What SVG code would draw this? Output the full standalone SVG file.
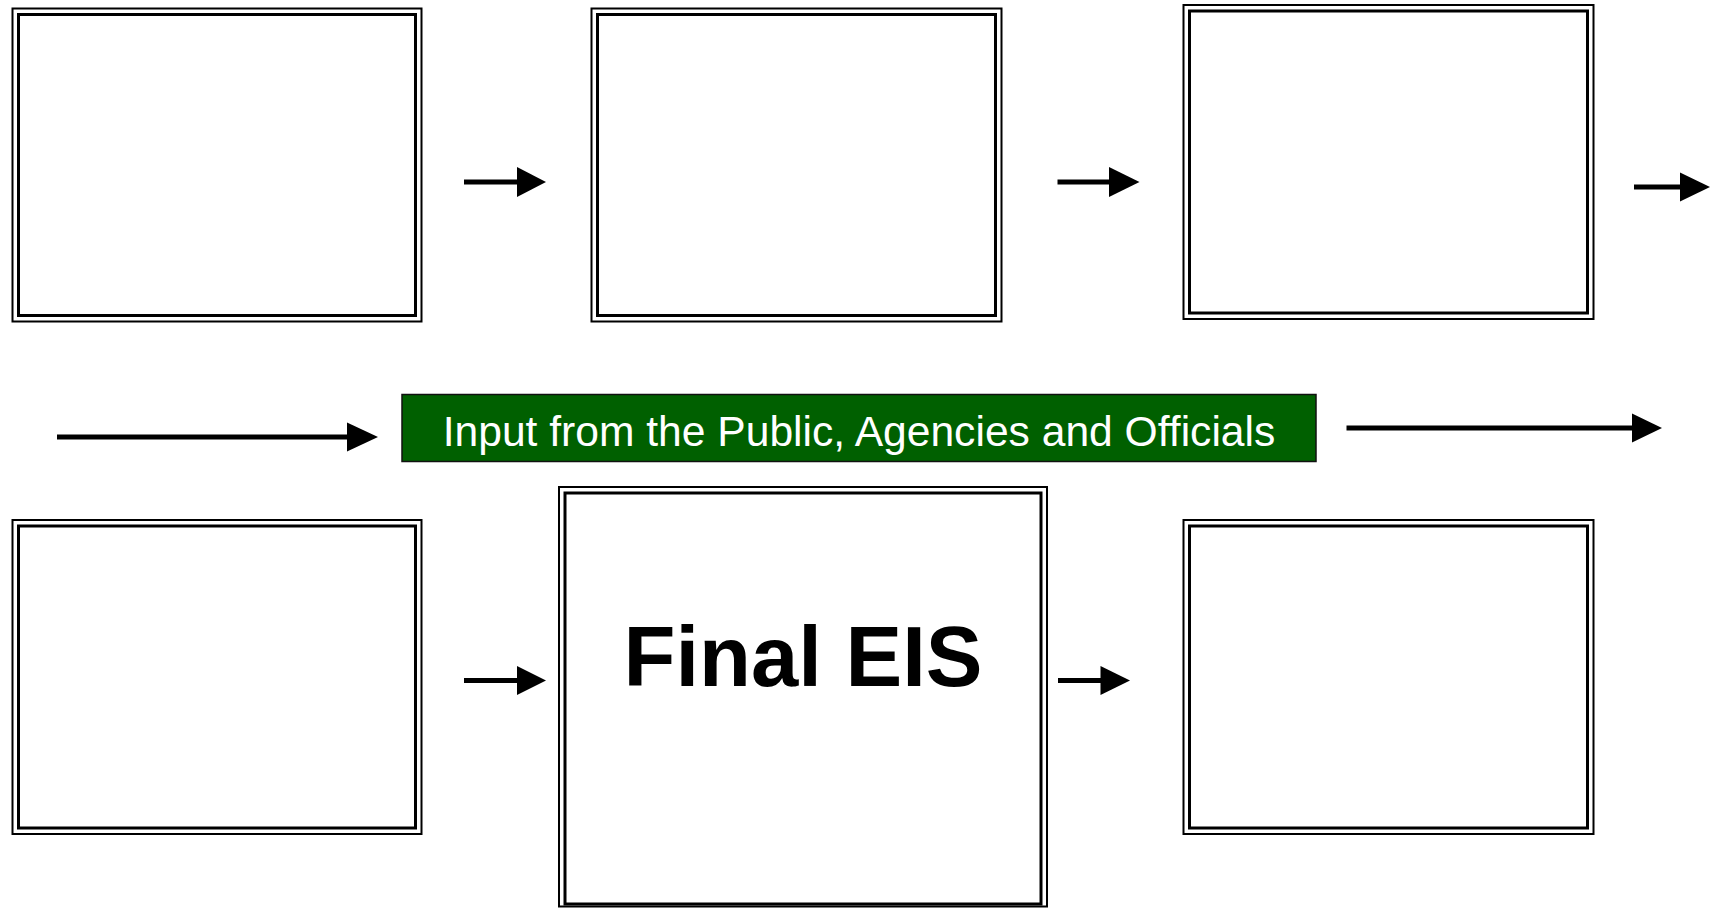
<svg xmlns="http://www.w3.org/2000/svg" width="1713" height="908" viewBox="0 0 1713 908">
<defs>
<style>
.outer{fill:#fff;stroke:#000;stroke-width:2}
.inner{fill:none;stroke:#000;stroke-width:3}
.ln{stroke:#000;stroke-width:5;fill:none}
.hd{fill:#000}
.lbl{font-family:"Liberation Sans",Arial,sans-serif;fill:#fff;font-size:42.6px;text-anchor:middle}
.big{font-family:"Liberation Sans",Arial,sans-serif;font-weight:bold;fill:#000;font-size:85px;text-anchor:middle}
</style>
</defs>
<rect width="1713" height="908" fill="#fff"/>
<g id="node-1"><rect class="outer" x="12.5" y="8.5" width="409" height="313"/><rect class="inner" x="18.5" y="14.5" width="397" height="301"/></g>
<g id="node-2"><rect class="outer" x="591.5" y="8.5" width="410" height="313"/><rect class="inner" x="597.5" y="14.5" width="398" height="301"/></g>
<g id="node-3"><rect class="outer" x="1183.5" y="5" width="410" height="314"/><rect class="inner" x="1189.5" y="11" width="398" height="302"/></g>
<g id="node-input"><rect x="402" y="394.5" width="914" height="67" fill="#006000" stroke="#111" stroke-width="1.5"/><text class="lbl" x="859" y="446">Input from the Public, Agencies and Officials</text></g>
<g id="node-4"><rect class="outer" x="12.5" y="520" width="409" height="314"/><rect class="inner" x="18.5" y="526" width="397" height="302"/></g>
<g id="node-5"><rect class="outer" x="559" y="487" width="488" height="419.5"/><rect class="inner" x="565" y="493" width="476" height="411"/><text class="big" x="803" y="686">Final EIS</text></g>
<g id="node-6"><rect class="outer" x="1183.5" y="520" width="410" height="314"/><rect class="inner" x="1189.5" y="526" width="398" height="302"/></g>
<g id="connectors">
<line class="ln" x1="464" y1="182" x2="518" y2="182"/><polygon class="hd" points="517,167 546,182 517,197"/>
<line class="ln" x1="1057.5" y1="182" x2="1110" y2="182"/><polygon class="hd" points="1109,167 1139.5,182 1109,197"/>
<line class="ln" x1="1634" y1="187" x2="1681" y2="187"/><polygon class="hd" points="1680,172.5 1710,187 1680,201.5"/>
<line class="ln" x1="57" y1="437" x2="348" y2="437"/><polygon class="hd" points="347,422.5 378,437 347,451.5"/>
<line class="ln" x1="1346.5" y1="428" x2="1633" y2="428"/><polygon class="hd" points="1632,413.5 1662,428 1632,442.5"/>
<line class="ln" x1="464" y1="680.5" x2="518" y2="680.5"/><polygon class="hd" points="517,666 546,680.5 517,695"/>
<line class="ln" x1="1058" y1="680.5" x2="1101" y2="680.5"/><polygon class="hd" points="1100.5,666 1130,680.5 1100.5,695"/>
</g>
</svg>
